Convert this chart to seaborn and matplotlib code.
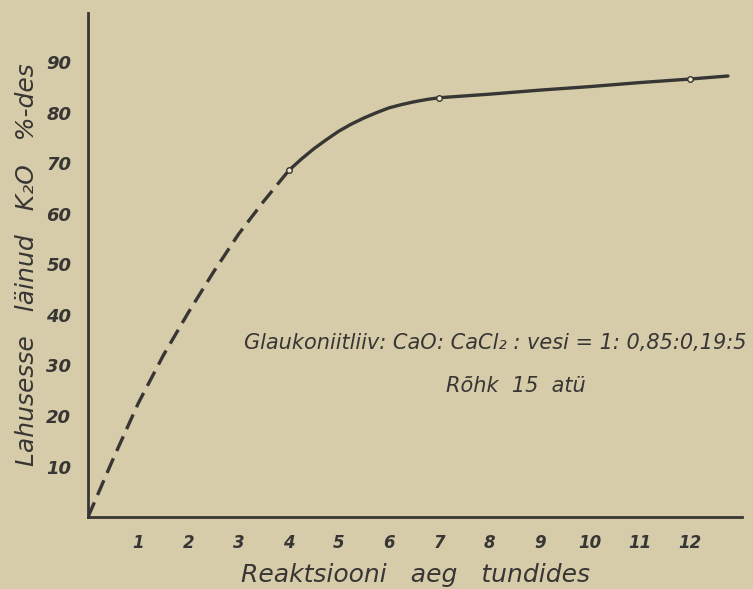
import matplotlib
matplotlib.use('Agg')
import matplotlib.pyplot as plt
import seaborn as sns
import pandas as pd

# values
hours_dashed = [0, 0.5, 1, 1.5, 2, 2.5, 3, 3.5, 4]
k2o_dashed = [0, 11.5, 22.5, 32, 40.5, 48.5, 56, 62.5, 68.6]
hours_solid = [4, 4.25, 4.5, 4.75, 5, 5.25, 5.5, 5.75, 6, 6.25, 6.5, 6.75, 7,
               8, 9, 10, 11, 12, 12.75]
k2o_solid = [68.6, 70.85, 72.9, 74.7, 76.4, 77.8, 79.0, 80.05, 81.0, 81.65, 82.2, 82.65, 83.0,
             83.7, 84.5, 85.2, 86.0, 86.7, 87.3]
hours_measured = [4, 7, 12]
k2o_measured = [68.6, 83.0, 86.7]
x_ticks = list(range(1, 13))
y_ticks = list(range(10, 100, 10))

paper = '#d7cca9'
ink = '#383634'

sns.set_style('white', rc={'axes.facecolor': paper, 'figure.facecolor': paper,
                           'axes.edgecolor': ink, 'text.color': ink,
                           'xtick.color': ink, 'ytick.color': ink,
                           'axes.labelcolor': ink})
plt.rcParams['font.family'] = ['DejaVu Sans']
plt.rcParams['font.style'] = 'italic'

fig = plt.figure(figsize=(7.53, 5.89), dpi=100)
ax = fig.add_axes([0.1169, 0.1222, 0.8685, 0.856])

dashed = pd.DataFrame({'t': hours_dashed, 'k': k2o_dashed})
solid = pd.DataFrame({'t': hours_solid, 'k': k2o_solid})
sns.lineplot(data=dashed, x='t', y='k', ax=ax, color=ink, lw=2.4,
             linestyle=(0, (4.8, 2.4)), dash_capstyle='butt')
sns.lineplot(data=solid, x='t', y='k', ax=ax, color=ink, lw=2.4,
             solid_joinstyle='round')
sns.scatterplot(x=hours_measured, y=k2o_measured, ax=ax, s=16, color='#ebe4cc',
                edgecolor=ink, linewidth=1.0, zorder=5)

ax.set_xlim(0, 13.03)
ax.set_ylim(0, 99.8)
ax.set_xticks(x_ticks)
ax.set_xticklabels([str(v) for v in x_ticks], fontsize=12, style='italic',
                   fontweight='bold')
ax.set_yticks(y_ticks)
ax.set_yticklabels([str(v) for v in y_ticks], fontsize=13, style='italic',
                   fontweight='bold')
ax.tick_params(axis='both', direction='out', length=6, width=1.5)
ax.tick_params(axis='x', pad=6)
ax.tick_params(axis='y', pad=6)
sns.despine(ax=ax)
for side in ['left', 'bottom']:
    ax.spines[side].set_linewidth(2)

ax.set_xlabel('Reaktsiooni   aeg   tundides', fontsize=18, style='italic', labelpad=8)
ax.set_ylabel('Lahusesse   läinud   K₂O   %-des', fontsize=18, style='italic', labelpad=5)

ax.text(8.12, 34.5, 'Glaukoniitliiv: CaO: CaCl₂ : vesi = 1: 0,85:0,19:5',
        ha='center', va='center', fontsize=15, style='italic')
ax.text(8.53, 25.9, 'Rõhk  15  atü', ha='center', va='center',
        fontsize=15, style='italic')

fig.savefig('out.png', dpi=100, facecolor=paper)
